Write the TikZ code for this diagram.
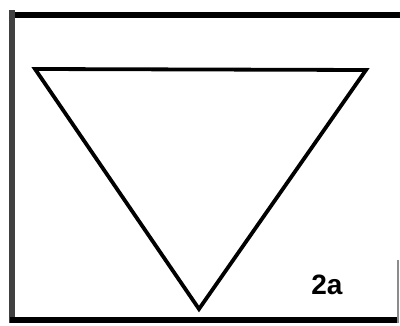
\documentclass[tikz,border=0pt]{standalone}
\usepackage{fontspec}
\setmainfont{Liberation Sans}
\begin{document}
\begin{tikzpicture}[x=1pt,y=-1pt,
  tri/.style={line width=3.8pt,line join=miter}]
\useasboundingbox (0,0) rectangle (400,326);
% frame
\draw[line width=6.5pt,black] (10,15) -- (400,15);
\draw[line width=6.5pt,black!75] (12,10) -- (12,323);
\draw[line width=6pt,black] (10,320.5) -- (398,320.5);
\draw[line width=1.5pt,black!45] (398,260) -- (398,323);
% triangle
\coordinate (a) at (35,69);
\coordinate (b) at (366,70);
\coordinate (c) at (199,309);
\draw[tri] (a) -- (b) -- (c) -- cycle;
\node[inner sep=0pt] (lbl) at (327,285) {\fontsize{28pt}{32pt}\selectfont\bfseries 2a};
\end{tikzpicture}
\end{document}
